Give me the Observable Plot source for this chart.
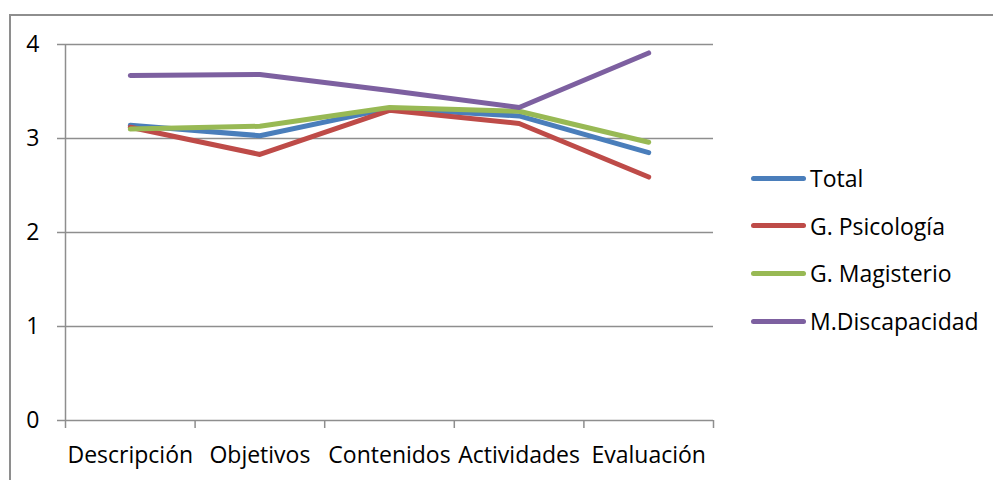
<!DOCTYPE html>
<html>
<head>
<meta charset="utf-8">
<script src="https://cdn.jsdelivr.net/npm/d3@7"></script>
<script src="https://cdn.jsdelivr.net/npm/@observablehq/plot@0.6"></script>
<style>
  html, body { margin: 0; padding: 0; background: #fff; }
  body { width: 993px; height: 480px; position: relative; overflow: hidden; font-family: "Open Sans", Lato, sans-serif; }
  #frame { position: absolute; left: 9px; top: 14px; width: 1000px; height: 500px; border-left: 2px solid #8e8e8e; border-top: 2px solid #8e8e8e; }
  #chart { position: absolute; left: 0; top: 0; }
  #legend { position: absolute; left: 751px; top: 0; }
  .item { position: absolute; left: 0; display: flex; align-items: center; white-space: nowrap; font-size: 23px; color: #000; }
  .sw { width: 55px; height: 5px; border-radius: 3px; margin-right: 4px; }
</style>
</head>
<body>
<div id="frame"></div>
<div id="chart"></div>
<div id="legend"></div>
<script>
const categories = ["Descripción", "Objetivos", "Contenidos", "Actividades", "Evaluación"];
const seriesNames = ["Total", "G. Psicología", "G. Magisterio", "M.Discapacidad"];
const total = [3.14, 3.03, 3.32, 3.24, 2.85];
const psicologia = [3.12, 2.83, 3.30, 3.16, 2.59];
const magisterio = [3.10, 3.13, 3.33, 3.29, 2.96];
const discapacidad = [3.67, 3.68, 3.51, 3.33, 3.91];
const colors = ["#4a7ebb", "#be4b48", "#98b954", "#7d60a0"];
const yTicks = [0, 1, 2, 3, 4];

const seriesValues = [total, psicologia, magisterio, discapacidad];
const rows = seriesNames.flatMap((s, k) =>
  categories.map((c, i) => ({series: s, pos: i + 0.5, value: seriesValues[k][i]})));
const boundaries = d3.range(categories.length + 1);
const centers = categories.map((c, i) => i + 0.5);
const grid = "#8e8e8e";

const plot = Plot.plot({
  width: 993,
  height: 480,
  marginLeft: 65,
  marginRight: 280,
  marginTop: 44,
  marginBottom: 60,
  style: {fontFamily: "'Open Sans', Lato, sans-serif", fontSize: "23px", background: "transparent", color: "#000"},
  x: {type: "linear", domain: [0, categories.length], axis: null},
  y: {domain: [0, 4], axis: null},
  color: {domain: seriesNames, range: colors},
  marks: [
    Plot.gridY(yTicks.filter(d => d > 0), {stroke: grid, strokeOpacity: 1, strokeWidth: 1.5}),
    Plot.ruleY([0], {stroke: grid, strokeWidth: 1.5}),
    Plot.ruleX([0], {stroke: grid, strokeWidth: 1.5}),
    Plot.axisY({ticks: yTicks, label: null, tickSize: 8, tickPadding: 18, stroke: grid, strokeWidth: 1.5, fill: "#000", fontSize: 23, tickFormat: d => String(d)}),
    Plot.axisX({ticks: boundaries, label: null, tickSize: 8, tickFormat: () => "", stroke: grid, strokeWidth: 1.5}),
    Plot.axisX({ticks: centers, label: null, tickSize: 0, tickPadding: 26, fill: "#000", fontSize: 23, tickFormat: d => categories[Math.round(d - 0.5)]}),
    Plot.line(rows, {x: "pos", y: "value", z: "series", stroke: "series", strokeWidth: 5, strokeLinecap: "round", strokeLinejoin: "round"})
  ]
});
document.getElementById("chart").appendChild(plot);

const legend = document.getElementById("legend");
seriesNames.forEach((s, k) => {
  const item = document.createElement("div");
  item.className = "item";
  item.style.top = (162 + k * 47.7) + "px";
  item.innerHTML = `<span class="sw" style="background:${colors[k]}"></span><span>${s}</span>`;
  legend.appendChild(item);
});
</script>
</body>
</html>
